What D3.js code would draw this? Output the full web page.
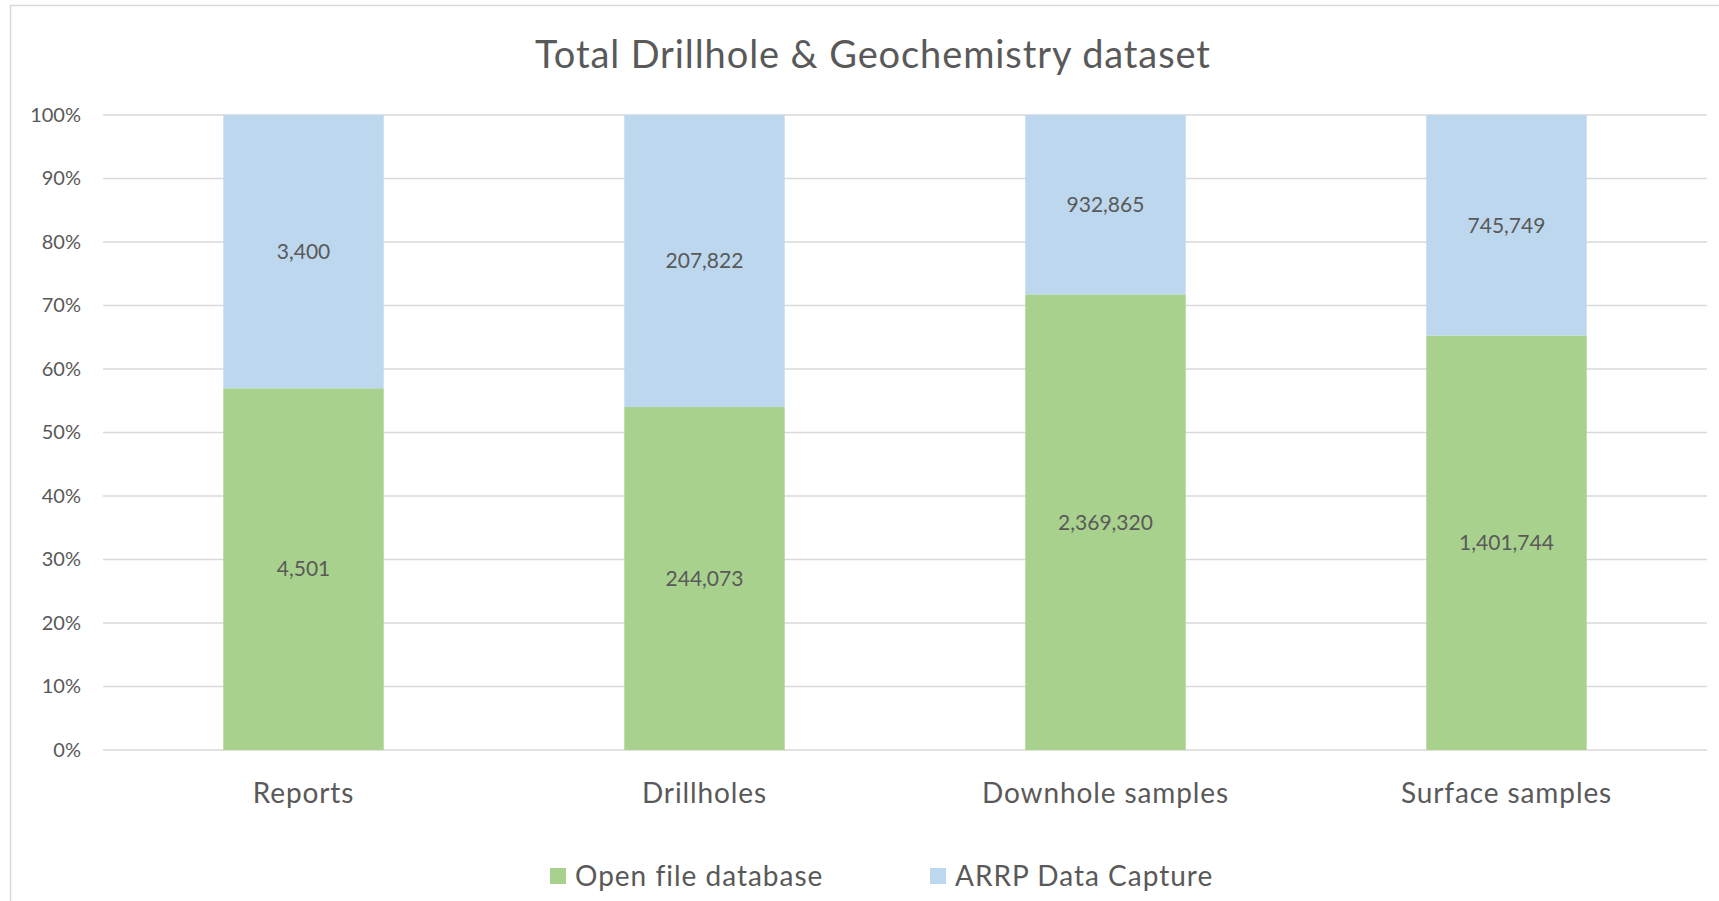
<!DOCTYPE html>
<html>
<head>
<meta charset="utf-8">
<script src="https://cdn.jsdelivr.net/npm/d3@7"></script>
<style>
  body { margin: 0; background: #fff; }
  text { font-family: Lato, "Open Sans", sans-serif; fill: #595959; }
</style>
</head>
<body>
<svg id="chart" width="1719" height="901"></svg>
<script>
// chart values
const categories = ["Reports", "Drillholes", "Downhole samples", "Surface samples"];
const openFile = [4501, 244073, 2369320, 1401744];
const arrp = [3400, 207822, 932865, 745749];
const seriesNames = ["Open file database", "ARRP Data Capture"];
const yTicks = [0, 0.1, 0.2, 0.3, 0.4, 0.5, 0.6, 0.7, 0.8, 0.9, 1];

const colors = ["#a9d18e", "#bdd7ee"];

const svg = d3.select("#chart");

// chart area border (runs off the right/bottom edge like the screenshot)
svg.append("rect")
  .attr("x", 10.5).attr("y", 5.5)
  .attr("width", 1760).attr("height", 960)
  .attr("fill", "none")
  .attr("stroke", "#d9d9d9")
  .attr("stroke-width", 1.5);

const plotL = 103, plotR = 1707, plotT = 115, plotB = 750;

const x = d3.scaleBand()
  .domain(categories)
  .range([plotL, plotR])
  .paddingInner(0.6)
  .paddingOuter(0.3);

const y = d3.scaleLinear()
  .domain([0, 1])
  .range([plotB, plotT]);

// gridlines
svg.append("g")
  .selectAll("line")
  .data(yTicks)
  .enter()
  .append("line")
  .attr("x1", plotL).attr("x2", plotR)
  .attr("y1", d => y(d)).attr("y2", d => y(d))
  .attr("stroke", "#d9d9d9")
  .attr("stroke-width", 1.5);

// y axis labels
const yAxis = d3.axisLeft(y)
  .tickValues(yTicks)
  .tickFormat(d3.format(".0%"))
  .tickSize(0)
  .tickPadding(0);

svg.append("g")
  .attr("transform", `translate(${plotL - 22},0)`)
  .call(yAxis)
  .call(g => g.select(".domain").remove())
  .selectAll("text")
  .style("font-size", "20px")
  .attr("fill", "#595959");

// stack as percentages
const rows = categories.map((c, i) => {
  const tot = openFile[i] + arrp[i];
  return { cat: c, open: openFile[i] / tot, arrp: arrp[i] / tot, rawOpen: openFile[i], rawArrp: arrp[i] };
});

const stack = d3.stack().keys(["open", "arrp"]);
const layers = stack(rows);

const fmt = d3.format(",");

layers.forEach((layer, li) => {
  const g = svg.append("g");
  g.selectAll("rect")
    .data(layer)
    .enter()
    .append("rect")
    .attr("x", d => x(d.data.cat))
    .attr("width", x.bandwidth())
    .attr("y", d => y(d[1]))
    .attr("height", d => y(d[0]) - y(d[1]))
    .attr("fill", colors[li]);

  g.selectAll("text")
    .data(layer)
    .enter()
    .append("text")
    .attr("x", d => x(d.data.cat) + x.bandwidth() / 2)
    .attr("y", d => (y(d[0]) + y(d[1])) / 2)
    .attr("dy", "0.35em")
    .attr("text-anchor", "middle")
    .style("font-size", "21px")
    .attr("fill", "#404040")
    .text(d => fmt(li === 0 ? d.data.rawOpen : d.data.rawArrp));
});

// category labels
const xAxis = d3.axisBottom(x).tickSize(0).tickPadding(0);
svg.append("g")
  .attr("transform", `translate(0,${plotB + 43})`)
  .call(xAxis)
  .call(g => g.select(".domain").remove())
  .selectAll("text")
  .attr("dy", "0.35em")
  .style("font-size", "28px")
  .style("letter-spacing", "0.9px")
  .attr("fill", "#595959");

// title
svg.append("text")
  .attr("x", 873)
  .attr("y", 55)
  .attr("dy", "0.35em")
  .attr("text-anchor", "middle")
  .style("font-size", "38px")
  .style("letter-spacing", "0.9px")
  .text("Total Drillhole & Geochemistry dataset");

// legend
const legendX = [550, 930];
const legend = svg.append("g");
seriesNames.forEach((name, i) => {
  legend.append("rect")
    .attr("x", legendX[i]).attr("y", 868)
    .attr("width", 16).attr("height", 16)
    .attr("fill", colors[i]);
  legend.append("text")
    .attr("x", legendX[i] + 25)
    .attr("y", 876)
    .attr("dy", "0.35em")
    .style("font-size", "28px")
    .style("letter-spacing", "1px")
    .text(name);
});
</script>
</body>
</html>
